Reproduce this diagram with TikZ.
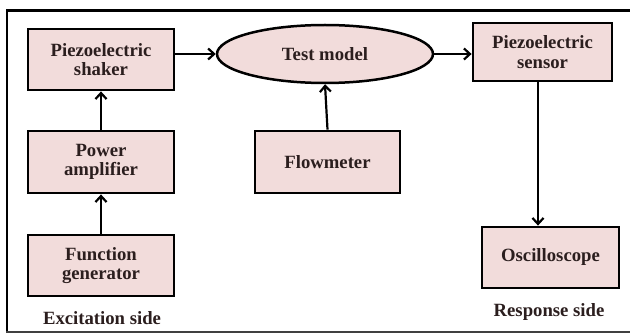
\documentclass[tikz,border=0pt]{standalone}
\usepackage{fontspec}
\setmainfont{Liberation Serif}
\usetikzlibrary{shapes.geometric,arrows.meta}
\definecolor{boxfill}{HTML}{F2DCDB}
\definecolor{txt}{HTML}{2B1E1E}
\tikzset{
  blk/.style={draw=black, line width=2.8pt, fill=boxfill, inner sep=0pt, align=center,
     font=\bfseries\fontsize{18.7}{19.5}\selectfont, text=txt},
  oval/.style={ellipse, draw=black, line width=2.5pt, fill=boxfill, inner sep=0pt,
     font=\bfseries\fontsize{18.7}{19.5}\selectfont, text=txt},
  arr/.style={line width=2.2pt, -{Straight Barb[length=6pt,width=11pt,line width=2.2pt]}},
  lbl/.style={font=\bfseries\fontsize{18.7}{19.5}\selectfont, text=txt, inner sep=0pt}
}
\begin{document}
\begin{tikzpicture}[x=1pt,y=-1pt]
\clip (0,0) rectangle (630,334);
\fill[white] (0,0) rectangle (630,334);
% frame
\draw[line width=3pt] (7,11) -- (640,11);
\draw[line width=2pt] (7,9.5) -- (7,333);
\draw[line width=1.5pt, black!75] (6,332) -- (640,332);
% nodes
\node[blk, minimum width=146pt, minimum height=61pt] (shaker) at (101,59.5) {Piezoelectric\\shaker};
\node[blk, minimum width=146pt, minimum height=62pt] (amp) at (101,162) {Power\\amplifier};
\node[blk, minimum width=146pt, minimum height=61pt] (gen) at (101,265.5) {Function\\generator};
\node[oval, minimum width=216pt, minimum height=58pt] (model) at (325,54) {Test model};
\node[blk, minimum width=145pt, minimum height=62pt] (flow) at (327.5,162) {Flowmeter};
\node[blk, minimum width=139pt, minimum height=58pt] (sensor) at (542.5,52) {Piezoelectric\\sensor};
\node[blk, minimum width=137pt, minimum height=61pt] (osc) at (550.5,257.5) {Oscilloscope};
\node[lbl] (exc) at (102,318) {Excitation side};
\node[lbl] (resp) at (549,312) {Response side};
% connectors
\draw[arr] (gen.north) -- (amp.south);
\draw[arr] (amp.north) -- (shaker.south);
\draw[arr] (shaker.east |- model.west) -- (model.west);
\draw[arr] (flow.north) -- (model.south);
\draw[arr] (model.east) -- (sensor.west |- model.east);
\draw[arr] ([xshift=-4.5pt]sensor.south) -- ([xshift=-12.5pt]osc.north);
\end{tikzpicture}
\end{document}
